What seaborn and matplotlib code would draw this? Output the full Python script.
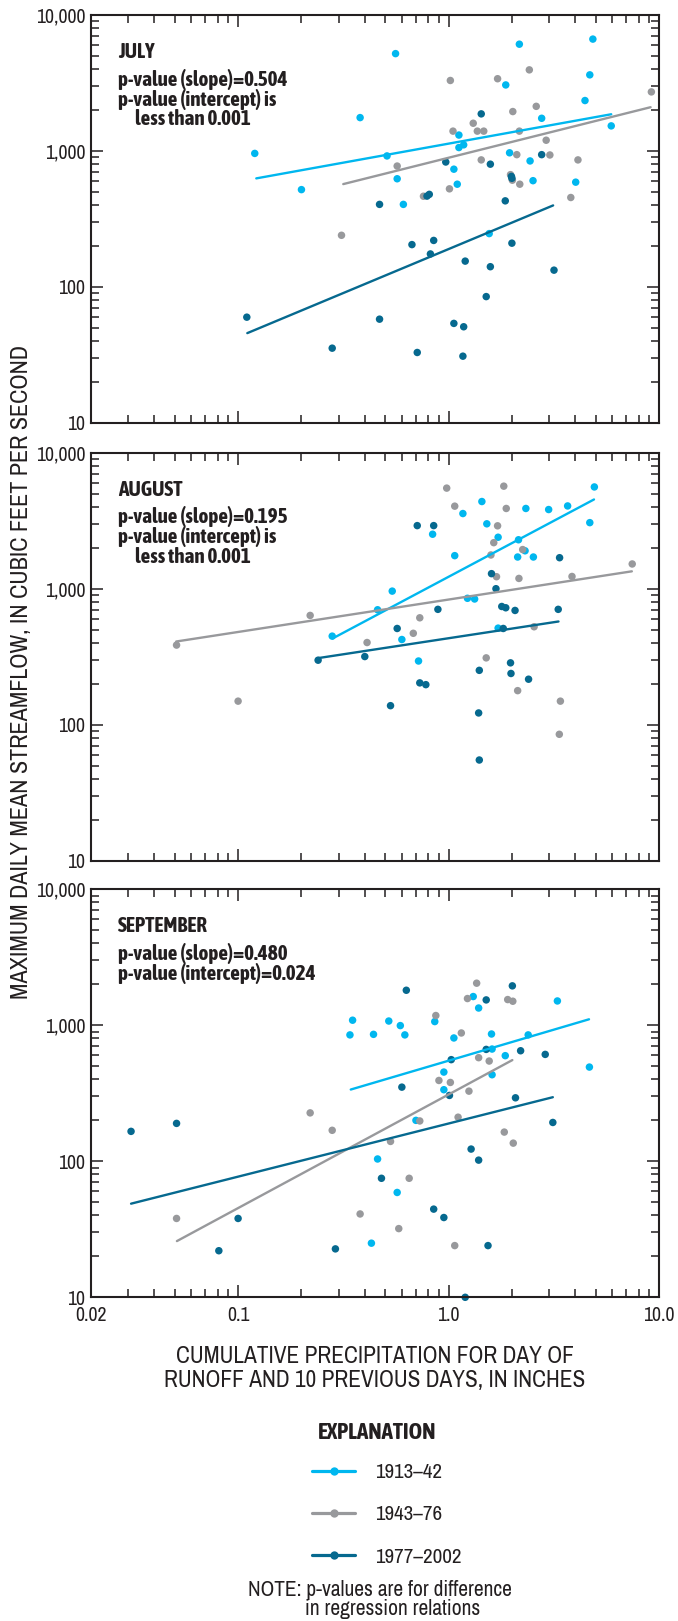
import numpy as np
import pandas as pd
import matplotlib
matplotlib.use("Agg")
import matplotlib.pyplot as plt
from matplotlib import font_manager
from matplotlib.lines import Line2D
import seaborn as sns

"""
data read off the figure
"""
periods = ["1913\u201342", "1943\u201376", "1977\u20132002"]
period_colors = ["#00b7ef", "#98999c", "#06698f"]
months = ["JULY", "AUGUST", "SEPTEMBER"]

# July
jul_early_x = [0.12, 0.20, 0.38, 0.56, 0.51, 0.57, 0.61, 1.06, 1.10, 1.12, 1.18, 1.12, 1.56, 1.87, 1.95, 2.17,
               2.44, 2.52, 2.77, 4.02, 4.45, 4.69, 4.85, 5.93]
jul_early_y = [960, 520, 1760, 5200, 920, 625, 405, 735, 570, 1060, 1110, 1310, 247, 3060, 970, 6100,
               845, 605, 1740, 590, 2350, 3630, 6650, 1530]
jul_mid_x = [0.31, 0.57, 0.76, 1.02, 1.01, 1.05, 1.31, 1.37, 1.47, 1.43, 1.71, 1.97, 2.01, 2.02, 2.11, 2.17,
             2.18, 2.42, 2.61, 2.91, 3.03, 3.81, 4.12, 9.2]
jul_mid_y = [240, 775, 465, 3300, 527, 1400, 1600, 1400, 1400, 860, 3400, 670, 610, 1950, 940, 1400,
             570, 3950, 2130, 1200, 935, 455, 860, 2720]
jul_late_x = [0.11, 0.28, 0.47, 0.47, 0.67, 0.71, 0.79, 0.81, 0.82, 0.85, 0.97, 1.06, 1.18, 1.17, 1.20, 1.43,
              1.51, 1.58, 1.58, 1.86, 1.99, 2.0, 2.0, 2.77, 3.17]
jul_late_y = [60, 35.5, 405, 58, 205, 33, 466, 480, 175, 220, 830, 54, 51, 31, 155, 1875,
              85, 800, 141, 430, 650, 630, 210, 940, 133]

# August
aug_early_x = [0.28, 0.46, 0.54, 0.60, 0.72, 0.84, 1.07, 1.17, 1.23, 1.33, 1.44, 1.52, 1.72, 1.72, 2.13, 2.15,
               2.33, 2.31, 2.53, 2.99, 3.68, 4.69, 4.93]
aug_early_y = [448, 700, 960, 423, 294, 2515, 1750, 3570, 850, 840, 4375, 3000, 2390, 513, 1710, 2290,
               3890, 1900, 1710, 3820, 4060, 3060, 5600]
aug_mid_x = [0.051, 0.10, 0.22, 0.41, 0.68, 0.73, 0.98, 1.07, 1.51, 1.59, 1.64, 1.69, 1.71, 1.83, 1.88, 2.13,
             2.16, 2.25, 2.55, 3.36, 3.40, 3.86, 7.46]
aug_mid_y = [385, 149, 636, 402, 470, 611, 5490, 4045, 310, 1770, 2180, 1225, 2900, 5675, 3890, 178,
             1190, 1940, 525, 85, 149, 1230, 1520]
aug_late_x = [0.24, 0.40, 0.53, 0.57, 0.71, 0.73, 0.78, 0.85, 0.89, 1.39, 1.40, 1.40, 1.60, 1.68, 1.79, 1.87,
              1.82, 1.97, 1.98, 2.07, 2.40, 3.32, 3.37]
aug_late_y = [298, 317, 138, 510, 2910, 203, 197, 2910, 705, 122, 55, 251, 1290, 1000, 740, 724,
              510, 285, 238, 692, 216, 705, 1690]

# September
sep_early_x = [0.34, 0.35, 0.44, 0.46, 0.43, 0.52, 0.57, 0.59, 0.62, 0.70, 0.86, 0.95, 0.95, 1.06, 1.31, 1.39,
               1.60, 1.61, 1.61, 1.86, 2.39, 3.29, 4.67]
sep_early_y = [850, 1090, 858, 104, 25, 1075, 59, 995, 850, 200, 1065, 453, 336, 807, 1627, 1340,
               863, 669, 433, 598, 850, 1510, 493]
sep_mid_x = [0.051, 0.22, 0.28, 0.38, 0.53, 0.58, 0.65, 0.73, 0.87, 0.90, 1.02, 1.07, 1.11, 1.15, 1.23, 1.25,
             1.36, 1.39, 1.56, 1.84, 1.91, 2.02, 2.03]
sep_mid_y = [38, 227, 169, 41, 140, 32, 75, 198, 1180, 393, 380, 24, 211, 878, 1573, 328,
             2040, 578, 546, 164, 1546, 1503, 136]
sep_late_x = [0.031, 0.051, 0.081, 0.10, 0.29, 0.48, 0.60, 0.63, 0.85, 0.95, 1.01, 1.03, 1.20, 1.28, 1.39, 1.51,
              1.51, 1.54, 2.01, 2.08, 2.20, 2.88, 3.13]
sep_late_y = [166, 190, 22, 38, 22.7, 75, 351, 1810, 44.5, 38.6, 305, 559, 10, 123, 102, 1537,
              665, 24, 1950, 293, 650, 611, 193]

# regression line end points (start, end) per month and period
jul_fit_x = [[0.122, 5.93], [0.316, 9.12], [0.1106, 3.14]]
jul_fit_y = [[629, 1863], [571, 2099], [45.8, 398]]
aug_fit_x = [[0.2815, 4.91], [0.0508, 7.43], [0.2375, 3.33]]
aug_fit_y = [[431, 4530], [409, 1342], [308, 574]]
sep_fit_x = [[0.343, 4.65], [0.0512, 2.01], [0.031, 3.13]]
sep_fit_y = [[337, 1107], [25.9, 555], [48.8, 296]]

panel_notes = [["p-value (slope)=0.504", "p-value (intercept) is", "less than 0.001"],
               ["p-value (slope)=0.195", "p-value (intercept) is", "less than 0.001"],
               ["p-value (slope)=0.480", "p-value (intercept)=0.024"]]

xtick_vals = [0.02, 0.1, 1, 10]
xtick_labels = ["0.02", "0.1", "1.0", "10.0"]
ytick_vals = [10, 100, 1000, 10000]
ytick_labels = ["10", "100", "1,000", "10,000"]

"""
tables for seaborn
"""
point_sets = {
    "JULY": [(jul_early_x, jul_early_y), (jul_mid_x, jul_mid_y), (jul_late_x, jul_late_y)],
    "AUGUST": [(aug_early_x, aug_early_y), (aug_mid_x, aug_mid_y), (aug_late_x, aug_late_y)],
    "SEPTEMBER": [(sep_early_x, sep_early_y), (sep_mid_x, sep_mid_y), (sep_late_x, sep_late_y)],
}
fit_sets = {"JULY": (jul_fit_x, jul_fit_y), "AUGUST": (aug_fit_x, aug_fit_y), "SEPTEMBER": (sep_fit_x, sep_fit_y)}

rows = []
for m in months:
    for p, (xs, ys) in zip(periods, point_sets[m]):
        for x, y in zip(xs, ys):
            rows.append((m, p, x, y))
df = pd.DataFrame(rows, columns=["month", "period", "precip", "flow"])

rows = []
for m in months:
    fx, fy = fit_sets[m]
    for p, xs, ys in zip(periods, fx, fy):
        for x, y in zip(xs, ys):
            rows.append((m, p, x, y))
df_fit = pd.DataFrame(rows, columns=["month", "period", "precip", "flow"])

"""
fonts: a condensed face if installed, bold condensed if there is one
"""
sns.set_style("ticks")
fonts = font_manager.fontManager.ttflist


def weight_of(f):
    return f.weight if isinstance(f.weight, int) else font_manager.weight_dict.get(f.weight, 400)


narrow = [f for f in fonts if ("Narrow" in f.name or "Condensed" in f.name) and f.style == "normal"]
regular = sorted([(abs(weight_of(f) - 400), f.name) for f in narrow])
heavy = sorted([(abs(weight_of(f) - 700), f.name, weight_of(f)) for f in narrow if weight_of(f) >= 600])
if regular:
    base_font, scale = regular[0][1], 1.12
else:
    base_font, scale = "Roboto", 1.0
if heavy:
    bold_font, bold_weight, note_size, head_size = heavy[0][1], heavy[0][2], 15.2, 16.5
else:
    bold_font, bold_weight, note_size, head_size = "Roboto", "bold", 11.8, 13.6
plt.rcParams["font.family"] = [base_font, "DejaVu Sans"]
bold_family = [bold_font, "DejaVu Sans"]
ink = "#231f20"
palette = dict(zip(periods, period_colors))

"""
plot
"""
fig = plt.figure(figsize=(6.78, 16.21), dpi=100)
W, H = 678.0, 1621.0
left, right = 91, 659
panel_tops = [15, 452.7, 889.3]
panel_h = 408
text_x = (118 - left) / (right - left)
indent_x = (135 - left) / (right - left)

minor_x = [m * 10.0 ** e for e in (-2, -1, 0) for m in range(2, 10) if 0.02 < m * 10.0 ** e < 10]
minor_y = [m * 10.0 ** e for e in (1, 2, 3) for m in range(2, 10)]

for i, m in enumerate(months):
    top = panel_tops[i]
    ax = fig.add_axes([left / W, 1 - (top + panel_h) / H, (right - left) / W, panel_h / H])
    sns.scatterplot(data=df[df.month == m], x="precip", y="flow", hue="period", hue_order=periods,
                    palette=palette, s=29, linewidth=0, legend=False, ax=ax, zorder=2, clip_on=False)
    sns.lineplot(data=df_fit[df_fit.month == m], x="precip", y="flow", hue="period", hue_order=periods,
                 palette=palette, linewidth=1.7, estimator=None, sort=False, legend=False, ax=ax, zorder=3)
    ax.set_xscale("log")
    ax.set_yscale("log")
    ax.set_xlim(0.02, 10)
    ax.set_ylim(10, 10000)
    ax.set_xticks(xtick_vals, xtick_labels)
    ax.set_xticks(minor_x, [""] * len(minor_x), minor=True)
    ax.set_yticks(ytick_vals, ytick_labels)
    ax.set_yticks(minor_y, [""] * len(minor_y), minor=True)
    ax.tick_params(which="both", direction="in", top=True, right=True, color=ink, width=1.1,
                   labelsize=12.7 * scale, labelcolor=ink)
    ax.tick_params(which="major", length=8.5)
    ax.tick_params(which="minor", length=5.8)
    ax.tick_params(axis="y", pad=4)
    ax.tick_params(axis="x", pad=6)
    if i < 2:
        ax.tick_params(labelbottom=False)
    for sp in ax.spines.values():
        sp.set_linewidth(1.5)
        sp.set_color(ink)
    ax.set_xlabel("")
    ax.set_ylabel("")

    ax.text(text_x, 1 - 37 / panel_h, m, transform=ax.transAxes, fontsize=note_size, family=bold_family,
            fontweight=bold_weight, va="center", ha="left", color=ink)
    for j, line in enumerate(panel_notes[i]):
        ax.text(indent_x if j == 2 else text_x, 1 - (64 + 20 * j) / panel_h, line, transform=ax.transAxes,
                fontsize=note_size, family=bold_family, fontweight=bold_weight, va="center", ha="left",
                color=ink)

fig.text(0.031, 1 - 672 / H, "MAXIMUM DAILY MEAN STREAMFLOW, IN CUBIC FEET PER SECOND", rotation=90,
         ha="center", va="center", fontsize=15.5 * scale, color=ink)
fig.text(375 / W, 1 - 1363 / H, "CUMULATIVE PRECIPITATION FOR DAY OF", ha="center", va="baseline",
         fontsize=15 * scale, color=ink)
fig.text(375 / W, 1 - 1387 / H, "RUNOFF AND 10 PREVIOUS DAYS, IN INCHES", ha="center", va="baseline",
         fontsize=15 * scale, color=ink)

fig.text(377 / W, 1 - 1439 / H, "EXPLANATION", ha="center", va="baseline", fontsize=head_size,
         family=bold_family, fontweight=bold_weight, color=ink)
handles = [Line2D([0], [0], color=c, lw=2.3, marker="o", markersize=6, markeredgewidth=0)
           for c in period_colors]
fig.legend(handles, periods, loc="center", bbox_to_anchor=(387 / W, 1 - 1515 / H), frameon=False,
           fontsize=13.5 * scale, handlelength=2.05, handletextpad=0.95, labelspacing=1.1, borderpad=0,
           borderaxespad=0, numpoints=1, labelcolor=ink)

fig.text(380 / W, 1 - 1596 / H, "NOTE: p-values are for difference", ha="center", va="baseline",
         fontsize=13.8 * scale, color=ink)
fig.text(393 / W, 1 - 1615 / H, "in regression relations", ha="center", va="baseline",
         fontsize=13.8 * scale, color=ink)

fig.savefig("out.png", dpi=100)
